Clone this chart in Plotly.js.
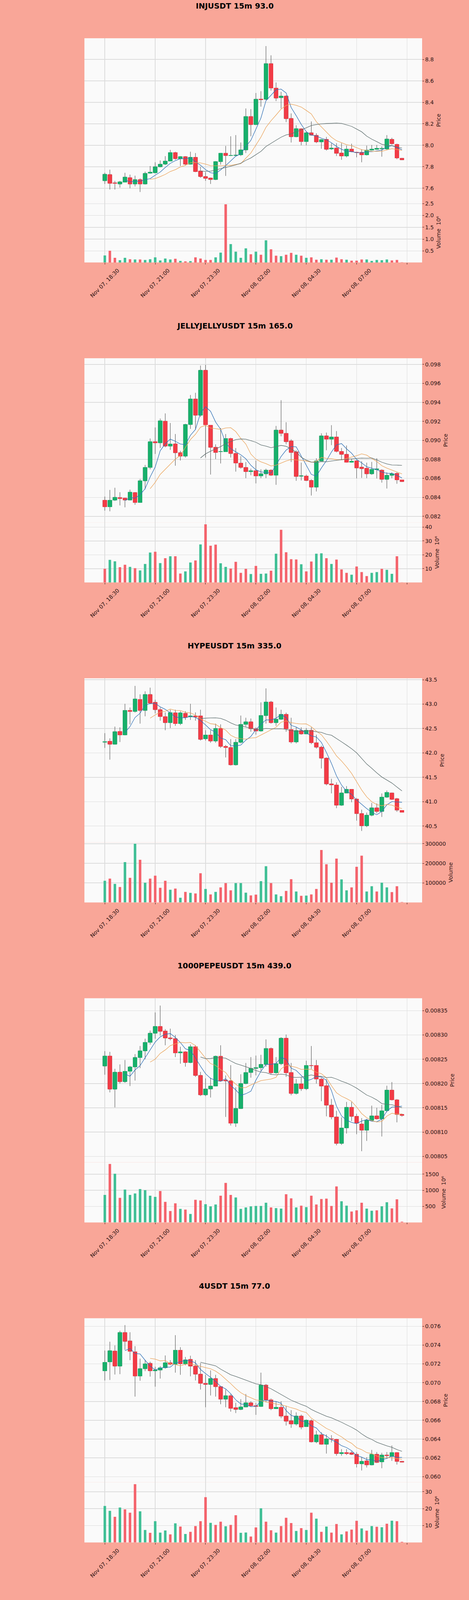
<!DOCTYPE html>
<html><head><meta charset="utf-8">
<script src="https://cdn.plot.ly/plotly-3.0.1.min.js"></script>
<style>html,body{margin:0;padding:0;background:#f9a698;overflow:hidden;} #chart{width:1200px;}</style>
</head><body><div id="chart"></div>
<script>
// ---------- shared x axis ticks ----------
const tickPositions = [0, 10, 20, 30, 40, 50];
const tickLabels = ["Nov 07, 18:30", "Nov 07, 21:00", "Nov 07, 23:30", "Nov 08, 02:00", "Nov 08, 04:30", "Nov 08, 07:00"];
const unlabeledTickPositions = [60];

// ---------- INJUSDT ----------
const injOpen = [7.67,7.727,7.65,7.64,7.657,7.698,7.64,7.68,7.64,7.74,7.744,7.80,7.825,7.853,7.932,7.874,7.894,7.824,7.888,7.761,7.709,7.695,7.681,7.848,7.926,7.905,7.905,7.911,7.957,8.268,8.193,8.43,8.429,8.76,8.533,8.444,8.458,8.25,8.08,8.153,8.035,8.116,8.093,8.032,8.055,7.966,7.974,7.928,7.90,7.965,7.936,7.934,7.911,7.955,7.963,7.968,7.966,8.055,8.009,7.879];
const injHigh = [7.745,7.773,7.669,7.669,7.744,7.727,7.717,7.692,7.755,7.807,7.842,7.859,7.899,7.957,7.94,7.899,7.899,7.94,7.928,7.80,7.75,7.70,7.853,7.928,7.994,8.084,8.095,8.026,8.343,8.337,8.487,8.504,8.924,8.838,8.585,8.498,8.465,8.297,8.187,8.158,8.13,8.222,8.112,8.058,8.078,8.02,8.02,8.02,7.997,8.015,7.94,7.963,7.997,8.003,8.003,7.99,8.095,8.07,8.015,7.881];
const injLow = [7.64,7.588,7.588,7.606,7.655,7.60,7.617,7.565,7.635,7.735,7.738,7.795,7.815,7.85,7.865,7.807,7.815,7.82,7.75,7.698,7.669,7.64,7.676,7.82,7.715,7.90,7.897,7.90,7.928,8.084,8.19,8.36,8.42,8.51,8.412,8.343,8.216,8.026,8.075,8.0,8.0,8.09,8.02,7.968,7.951,7.957,7.90,7.865,7.888,7.935,7.888,7.842,7.905,7.95,7.958,7.894,7.955,8.005,7.87,7.863];
const injClose = [7.73,7.646,7.645,7.66,7.704,7.64,7.68,7.64,7.738,7.75,7.80,7.824,7.853,7.932,7.876,7.894,7.824,7.888,7.755,7.709,7.692,7.681,7.848,7.926,7.905,7.906,7.908,7.957,8.268,8.193,8.429,8.425,8.76,8.533,8.44,8.458,8.248,8.08,8.155,8.035,8.116,8.095,8.032,8.053,7.963,7.974,7.925,7.90,7.965,7.94,7.932,7.911,7.955,7.965,7.972,7.972,8.058,8.015,7.882,7.865];
const injVolumeM = [0.31,0.51,0.21,0.11,0.21,0.15,0.14,0.14,0.12,0.15,0.23,0.10,0.18,0.14,0.17,0.08,0.06,0.07,0.23,0.18,0.12,0.12,0.23,0.43,2.47,0.79,0.47,0.21,0.61,0.36,0.47,0.34,0.95,0.57,0.30,0.28,0.34,0.42,0.34,0.30,0.21,0.23,0.13,0.15,0.13,0.13,0.22,0.15,0.13,0.09,0.09,0.14,0.14,0.08,0.12,0.11,0.14,0.10,0.12,0.02];

// ---------- JELLYJELLYUSDT ----------
const jellyOpen = [0.0837,0.0830,0.0837,0.08397,0.08392,0.08372,0.0845,0.08346,0.08574,0.08715,0.08986,0.08974,0.09202,0.0894,0.08963,0.0887,0.08834,0.09167,0.09436,0.09265,0.09738,0.0916,0.08927,0.0888,0.0888,0.0902,0.08862,0.08761,0.08715,0.08671,0.0868,0.08625,0.08648,0.08687,0.08633,0.09108,0.09074,0.08994,0.0888,0.08623,0.08625,0.08578,0.08508,0.08783,0.09047,0.09012,0.09036,0.08884,0.08853,0.08769,0.08784,0.08718,0.08707,0.08648,0.08692,0.08687,0.0859,0.08632,0.08652,0.08584];
const jellyHigh = [0.08408,0.08478,0.08501,0.08454,0.08395,0.08481,0.08455,0.08594,0.08741,0.0902,0.09136,0.0923,0.09284,0.09183,0.09067,0.0889,0.09175,0.09478,0.09501,0.09788,0.09795,0.0916,0.08958,0.09129,0.09067,0.09028,0.08919,0.08834,0.08772,0.08702,0.08788,0.08695,0.08702,0.08695,0.09152,0.09423,0.09191,0.09012,0.08896,0.08766,0.0864,0.0859,0.08811,0.09074,0.09082,0.0916,0.09098,0.0892,0.08946,0.08806,0.08794,0.0878,0.08765,0.08773,0.08812,0.08695,0.08663,0.08663,0.08663,0.08586];
const jellyLow = [0.0826,0.08253,0.08361,0.08315,0.08295,0.08368,0.08322,0.08342,0.08485,0.08695,0.08857,0.0892,0.08927,0.0890,0.08733,0.08788,0.08819,0.09121,0.09113,0.09247,0.08819,0.0864,0.08803,0.08757,0.08878,0.08819,0.08671,0.08702,0.08602,0.08633,0.08547,0.08602,0.08602,0.08625,0.08532,0.09043,0.08958,0.08772,0.08574,0.08578,0.08571,0.08419,0.08462,0.08783,0.08896,0.0895,0.08873,0.08795,0.08765,0.08765,0.086,0.08605,0.08602,0.08637,0.08598,0.08555,0.08493,0.08602,0.08543,0.08564];
const jellyClose = [0.0830,0.0837,0.0840,0.08388,0.08372,0.08454,0.08346,0.08574,0.08715,0.08986,0.08974,0.09206,0.0894,0.08961,0.0887,0.08834,0.09167,0.09436,0.09265,0.09738,0.09164,0.08927,0.08873,0.08882,0.0902,0.08862,0.08761,0.08715,0.08671,0.0868,0.08625,0.08648,0.08687,0.08633,0.09108,0.09074,0.08986,0.08873,0.0862,0.08627,0.08578,0.08508,0.08783,0.09047,0.09012,0.09036,0.08884,0.08853,0.08769,0.08781,0.0871,0.08702,0.08648,0.08695,0.087,0.0859,0.08632,0.08648,0.08584,0.08566];
const jellyVolumeM = [10.0,16.4,15.3,11.1,12.9,11.3,10.4,8.8,13.4,21.7,22.2,14.1,17.6,19.0,19.0,6.5,8.1,14.5,16.0,27.5,42.0,26.6,27.4,13.9,11.3,10.1,15.0,7.0,9.9,6.2,12.0,6.3,6.5,8.6,20.8,38.1,21.9,16.9,16.7,13.2,8.1,15.2,20.8,21.1,17.6,13.4,16.6,9.5,7.0,5.7,11.6,7.6,4.7,7.0,7.6,9.9,9.2,6.3,19.0,0.2];

// ---------- HYPEUSDT ----------
const hypeOpen = [42.22,42.238,42.178,42.44,42.367,42.87,42.85,43.096,42.87,43.196,43.036,42.886,42.744,42.62,42.82,42.6,42.81,42.741,42.759,42.759,42.289,42.367,42.244,42.5,42.133,42.11,41.756,42.217,42.584,42.636,42.494,42.449,42.765,43.042,42.62,42.69,42.789,42.479,42.223,42.458,42.389,42.464,42.208,42.117,41.892,41.364,41.343,40.928,41.178,41.253,41.054,40.756,40.506,40.723,40.873,40.801,41.093,41.178,41.06,40.822];
const hypeHigh = [42.404,42.298,42.539,42.524,43.006,42.93,43.373,43.2,43.262,43.337,43.09,42.93,42.83,42.885,42.885,42.855,42.855,43.006,42.83,42.885,42.464,42.464,42.6,42.585,42.163,42.283,42.283,42.765,42.72,42.705,42.524,43.036,43.322,43.066,42.93,42.885,42.825,42.72,42.524,42.524,42.509,42.524,42.373,42.148,41.907,41.47,41.395,41.304,41.319,41.259,41.078,40.837,40.777,40.974,40.964,41.169,41.229,41.184,41.078,40.822];
const hypeLow = [42.102,41.861,42.17,42.223,42.36,42.584,42.825,42.6,42.75,43.01,42.81,42.66,42.464,42.509,42.554,42.57,42.675,42.675,42.66,42.253,42.253,42.208,42.208,42.102,41.907,41.741,41.741,42.193,42.539,42.434,42.373,42.434,42.6,42.6,42.554,42.675,42.434,42.193,42.193,42.373,42.389,42.178,42.088,41.68,41.334,41.17,40.867,40.913,41.17,40.988,40.611,40.4,40.479,40.7,40.762,40.687,41.078,41.033,40.792,40.78];
const hypeClose = [42.23,42.178,42.434,42.367,42.87,42.85,43.105,42.87,43.196,43.02,42.886,42.744,42.62,42.825,42.6,42.82,42.729,42.759,42.735,42.277,42.367,42.244,42.5,42.133,42.11,41.756,42.217,42.584,42.636,42.494,42.449,42.765,43.042,42.62,42.69,42.789,42.494,42.223,42.458,42.389,42.464,42.208,42.117,41.892,41.364,41.343,40.928,41.178,41.253,41.054,40.756,40.506,40.723,40.873,40.801,41.093,41.19,41.048,40.828,40.783];
const hypeVolume = [111000,122000,95000,79000,206000,126000,300000,218000,101000,122000,137000,75000,111000,65000,71000,24000,54000,49000,46000,149000,69000,41000,54000,77000,99000,62000,99000,99000,50000,36000,40000,109000,185000,99000,41000,32000,59000,119000,56000,34000,35000,41000,69000,268000,195000,101000,224000,118000,62000,77000,182000,239000,56000,83000,56000,101000,77000,53000,83000,2000];

// ---------- 1000PEPEUSDT ----------
const pepeOpen = [0.0082361,0.0082567,0.0081885,0.0082233,0.0082039,0.0082252,0.0082342,0.0082536,0.0082673,0.0082848,0.0083036,0.0083176,0.0083082,0.0082939,0.0082924,0.008263,0.0082652,0.0082433,0.0082758,0.0082167,0.0081767,0.0081888,0.0081948,0.0082561,0.008207,0.0082055,0.0081182,0.0081485,0.0082,0.0082227,0.0082312,0.0082327,0.0082394,0.0082721,0.0082221,0.0082409,0.0082933,0.0082227,0.0081797,0.0081994,0.0081894,0.0082373,0.0082373,0.0082091,0.0081955,0.0081555,0.0081312,0.0080767,0.0081085,0.0081509,0.0081324,0.0081167,0.0081039,0.0081242,0.0081333,0.0081273,0.0081439,0.0081864,0.0081664,0.0081364];
const pepeHigh = [0.0082667,0.0082652,0.0082303,0.0082394,0.0082485,0.0082364,0.0082606,0.0082773,0.0082924,0.0083091,0.0083464,0.0083606,0.0083121,0.008313,0.0083,0.0082758,0.0082667,0.0082803,0.008279,0.008224,0.0082106,0.0082121,0.0082576,0.0082788,0.0082167,0.0082379,0.0081924,0.0082191,0.0082424,0.0082545,0.0082576,0.0082591,0.0082909,0.0082742,0.0082545,0.0082955,0.0083009,0.0082424,0.0082091,0.0082136,0.008247,0.0082773,0.0082485,0.0082121,0.0082091,0.0081682,0.0081439,0.0081303,0.0081621,0.0081621,0.0081379,0.0081288,0.0081273,0.0081545,0.00815,0.0081561,0.0081955,0.008203,0.0081682,0.0081379];
const pepeLow = [0.0082182,0.0081818,0.0081509,0.0082,0.0082015,0.0081948,0.0082061,0.0082318,0.00825,0.0082803,0.0082924,0.0082985,0.0082788,0.008289,0.0082545,0.0082409,0.0082348,0.008242,0.0082136,0.0081742,0.008174,0.0081712,0.008194,0.0082045,0.0081312,0.0081136,0.0081106,0.008148,0.0081985,0.0082121,0.0082167,0.0082258,0.0082348,0.0082182,0.0082197,0.0082379,0.0082136,0.0081758,0.0081773,0.0081848,0.0081864,0.0082303,0.0082,0.0081636,0.0081324,0.0081264,0.0080727,0.0080736,0.008097,0.0081227,0.0080955,0.0080606,0.0080818,0.0081227,0.0081258,0.0080909,0.0081409,0.0081652,0.00812,0.0081318];
const pepeClose = [0.0082567,0.0081885,0.0082233,0.0082039,0.0082252,0.0082342,0.0082536,0.0082673,0.0082848,0.0083036,0.0083176,0.0083076,0.0082939,0.0082924,0.008263,0.0082652,0.0082433,0.0082758,0.0082167,0.0081767,0.0081888,0.0081948,0.0082561,0.0082055,0.0082055,0.0081182,0.0081485,0.0082,0.0082227,0.0082312,0.0082327,0.0082394,0.0082721,0.0082221,0.0082409,0.0082933,0.0082221,0.0081797,0.0081994,0.0081894,0.0082373,0.008237,0.0082091,0.0081948,0.0081555,0.0081312,0.0080767,0.0081085,0.0081509,0.0081324,0.0081182,0.0081039,0.0081242,0.0081333,0.0081273,0.0081439,0.0081864,0.0081664,0.0081364,0.0081342];
const pepeVolumeM = [855,1818,1514,764,1023,855,900,1036,1005,832,795,977,641,355,595,423,400,264,705,682,568,500,559,832,1227,855,777,423,468,500,514,514,614,468,445,432,877,750,468,523,477,832,559,727,741,514,1118,659,523,341,377,614,432,364,377,505,627,436,718,23];

// ---------- 4USDT ----------
const fourOpen = [0.07126,0.07221,0.07337,0.07177,0.07534,0.07444,0.07329,0.07071,0.07149,0.07206,0.07127,0.07135,0.07159,0.07212,0.07196,0.07346,0.07201,0.07248,0.07177,0.07091,0.06993,0.06982,0.07044,0.06958,0.06825,0.06861,0.06735,0.06716,0.06742,0.06786,0.06755,0.06747,0.06974,0.06818,0.06724,0.06739,0.06645,0.06595,0.0656,0.06645,0.06533,0.06595,0.06371,0.06445,0.06345,0.06403,0.06398,0.06246,0.06257,0.06254,0.06238,0.06137,0.06168,0.06126,0.06238,0.06157,0.0623,0.06215,0.06257,0.06163];
const fourHigh = [0.07342,0.07436,0.07397,0.07553,0.07613,0.07537,0.07389,0.07256,0.07243,0.07224,0.0717,0.07177,0.0729,0.0724,0.07506,0.07378,0.07274,0.07287,0.0724,0.07209,0.07084,0.07131,0.07084,0.06966,0.06927,0.0688,0.06786,0.06825,0.0688,0.06802,0.06786,0.07107,0.06987,0.06833,0.06799,0.06802,0.06752,0.06708,0.06685,0.06661,0.06609,0.06609,0.06489,0.06474,0.0645,0.06442,0.06403,0.06293,0.06293,0.0627,0.06262,0.06207,0.06207,0.06285,0.06262,0.06254,0.06262,0.06332,0.06262,0.06165];
const fourLow = [0.07024,0.07029,0.07087,0.07091,0.0735,0.0724,0.06852,0.07021,0.07123,0.07065,0.06958,0.07044,0.07149,0.07185,0.07107,0.07084,0.07185,0.07068,0.07024,0.06927,0.06739,0.06864,0.06852,0.06771,0.06739,0.06692,0.06677,0.06708,0.06739,0.06747,0.06658,0.06742,0.06794,0.06708,0.06723,0.06622,0.06544,0.0652,0.06544,0.06505,0.06532,0.06364,0.06356,0.0634,0.06246,0.06364,0.06223,0.06223,0.06231,0.06231,0.06098,0.06066,0.06098,0.0612,0.06145,0.0609,0.06192,0.06168,0.06129,0.06152];
const fourClose = [0.07217,0.0734,0.07177,0.07534,0.0744,0.07334,0.07071,0.07149,0.07201,0.07127,0.07135,0.07159,0.07212,0.07196,0.07346,0.07201,0.07243,0.07177,0.07091,0.06993,0.06982,0.07044,0.06958,0.06825,0.06861,0.06727,0.06716,0.06742,0.06786,0.06755,0.06747,0.06974,0.06818,0.06724,0.06739,0.06645,0.06591,0.0656,0.06645,0.06528,0.06602,0.06371,0.06445,0.06345,0.06403,0.06398,0.06246,0.06257,0.06246,0.06238,0.06137,0.06163,0.06126,0.06238,0.06152,0.0623,0.06223,0.06257,0.06163,0.06155];
const fourVolumeM = [21.6,18.7,15.2,20.7,19.6,17.6,34.5,18.4,7.4,5.7,12.6,5.8,7.1,4.8,11.3,9.4,5.0,6.3,9.7,12.6,26.8,11.6,10.4,12.3,9.6,10.4,16.1,5.7,5.9,3.5,8.9,20.2,12.3,7.2,5.8,9.7,14.6,11.5,6.8,8.5,7.4,17.6,14.1,6.3,9.4,5.8,10.9,4.8,6.5,7.6,12.8,8.3,7.0,9.7,9.3,9.0,11.1,12.9,12.6,0.4];

// ---------- axis tick values ----------
const injPriceTicks = [7.6,7.8,8.0,8.2,8.4,8.6,8.8];
const injVolTicks = [0.5,1.0,1.5,2.0,2.5];
const jellyPriceTicks = [0.082,0.084,0.086,0.088,0.090,0.092,0.094,0.096,0.098];
const jellyVolTicks = [10,20,30,40];
const hypePriceTicks = [40.5,41.0,41.5,42.0,42.5,43.0,43.5];
const hypeVolTicks = [100000,200000,300000];
const pepePriceTicks = [0.00805,0.0081,0.00815,0.0082,0.00825,0.0083,0.00835];
const pepeVolTicks = [500,1000,1500];
const fourPriceTicks = [0.060,0.062,0.064,0.066,0.068,0.070,0.072,0.074,0.076];
const fourVolTicks = [10,20,30];

// moving-average windows used by the chart (mav = 5, 10, 20)
const maWindows = [5, 10, 20];

// ---------- style ----------
const GREEN = '#17b06b', RED = '#f23b46';
const VGREEN = '#3fbf95', VRED = '#f4636c';
const MA_COLORS = ['#2f70b5', '#eba35a', '#607070'];
const WICK = '#3c3c3c', TXT = '#2e1212', GRID = '#dcdcdc';
const FONT = 'DejaVu Sans';
const W = 1200;
const REF_H = 4310;                                   // design height of the figure
const H = Math.min(REF_H, window.innerHeight || REF_H); // fit the visible window
const PH = 862;                                       // design height of one panel
const py = px => 1 - px / REF_H;                      // design px -> paper fraction
const VOL_E6 = 'Volume  10\u2076';

function sma(arr, n) {
  return arr.map((v, i) => {
    if (i < n - 1) return null;
    let s = 0;
    for (let j = i - n + 1; j <= i; j++) s += arr[j];
    return s / n;
  });
}

const panels = [
  {title: 'INJUSDT 15m 93.0', o: injOpen, h: injHigh, l: injLow, c: injClose, v: injVolumeM,
   pRange: [7.469, 8.997], pTicks: injPriceTicks, pFmt: '.1f',
   vRange: [0.014, 2.555], vTicks: injVolTicks, vFmt: '.1f', vTitle: VOL_E6},
  {title: 'JELLYJELLYUSDT 15m 165.0', o: jellyOpen, h: jellyHigh, l: jellyLow, c: jellyClose, v: jellyVolumeM,
   pRange: [0.08137, 0.09865], pTicks: jellyPriceTicks, pFmt: '.3f',
   vRange: [0.1, 43.45], vTicks: jellyVolTicks, vFmt: 'd', vTitle: VOL_E6},
  {title: 'HYPEUSDT 15m 335.0', o: hypeOpen, h: hypeHigh, l: hypeLow, c: hypeClose, v: hypeVolume,
   pRange: [40.167, 43.53], pTicks: hypePriceTicks, pFmt: '.1f',
   vRange: [0, 307200], vTicks: hypeVolTicks, vFmt: 'd', vTitle: 'Volume'},
  {title: '1000PEPEUSDT 15m 439.0', o: pepeOpen, h: pepeHigh, l: pepeLow, c: pepeClose, v: pepeVolumeM,
   pRange: [0.0080377, 0.0083757], pTicks: pepePriceTicks, pFmt: '.5f',
   vRange: [0, 1868], vTicks: pepeVolTicks, vFmt: 'd', vTitle: VOL_E6},
  {title: '4USDT 15m 77.0', o: fourOpen, h: fourHigh, l: fourLow, c: fourClose, v: fourVolumeM,
   pRange: [0.0594, 0.07686], pTicks: fourPriceTicks, pFmt: '.3f',
   vRange: [0, 35.6], vTicks: fourVolTicks, vFmt: 'd', vTitle: VOL_E6}
];

const traces = [];
const layout = {
  width: W, height: H, autosize: false,
  margin: {l: 0, r: 0, t: 0, b: 0},
  paper_bgcolor: '#f9a698', plot_bgcolor: '#fafafa',
  showlegend: false, boxmode: 'overlay', boxgap: 0.22, boxgroupgap: 0,
  font: {family: FONT, color: TXT, size: 13.9},
  annotations: []
};

panels.forEach((p, k) => {
  const n = k + 1;
  const xa = n === 1 ? 'x' : 'x' + n;
  const ypN = 2 * k + 1, yvN = 2 * k + 2;
  const yp = ypN === 1 ? 'y' : 'y' + ypN;
  const yv = 'y' + yvN;
  const T = k * PH;
  const idx = p.o.map((_, i) => i);

  // full candles: dark wicks
  traces.push({type: 'candlestick', x: idx, open: p.o, high: p.h, low: p.l, close: p.c,
    xaxis: xa, yaxis: yp, whiskerwidth: 0, hoverinfo: 'skip',
    increasing: {line: {color: WICK, width: 1}, fillcolor: GREEN},
    decreasing: {line: {color: WICK, width: 1}, fillcolor: RED}});
  // bodies redrawn with coloured edges
  const bHi = p.o.map((o, i) => Math.max(o, p.c[i]));
  const bLo = p.o.map((o, i) => Math.min(o, p.c[i]));
  traces.push({type: 'candlestick', x: idx, open: p.o, high: bHi, low: bLo, close: p.c,
    xaxis: xa, yaxis: yp, whiskerwidth: 0, hoverinfo: 'skip',
    increasing: {line: {color: GREEN, width: 1}, fillcolor: GREEN},
    decreasing: {line: {color: RED, width: 1}, fillcolor: RED}});
  // moving averages of the closes
  maWindows.forEach((w, j) => {
    traces.push({type: 'scatter', mode: 'lines', x: idx, y: sma(p.c, w), xaxis: xa, yaxis: yp,
      line: {color: MA_COLORS[j], width: 1.3}, hoverinfo: 'skip', connectgaps: false});
  });
  // volume
  traces.push({type: 'bar', x: idx, y: p.v, xaxis: xa, yaxis: yv, width: 0.5, hoverinfo: 'skip',
    marker: {color: p.o.map((o, i) => p.c[i] >= o ? VGREEN : VRED), line: {width: 0}}});

  const xKey = n === 1 ? 'xaxis' : 'xaxis' + n;
  const ypKey = ypN === 1 ? 'yaxis' : 'yaxis' + ypN;
  const yvKey = 'yaxis' + yvN;
  layout[xKey] = {domain: [0.18, 0.9], anchor: yv, range: [-4.05, 63.0],
    tickmode: 'array', tickvals: tickPositions, ticktext: tickLabels,
    tickangle: -45, ticklabelshift: 33, ticklabelstandoff: 2,
    tickfont: {family: FONT, size: 13.9, color: TXT},
    ticks: 'outside', ticklen: 4, tickwidth: 1, tickcolor: TXT,
    minor: {tickmode: 'array', tickvals: unlabeledTickPositions, ticks: 'outside', ticklen: 4,
            tickcolor: TXT, tickwidth: 1, showgrid: true, gridcolor: GRID, gridwidth: 1.4},
    showgrid: true, gridcolor: GRID, gridwidth: 1.4, zeroline: false, showline: false,
    rangeslider: {visible: false}, fixedrange: true};
  const yCommon = {anchor: xa, side: 'right', tickmode: 'array', ticks: 'outside', ticklen: 4,
    tickwidth: 1, tickcolor: TXT, tickfont: {family: FONT, size: 13.9, color: TXT},
    showgrid: true, gridcolor: GRID, gridwidth: 1.4, zeroline: false, showline: false, fixedrange: true};
  layout[ypKey] = Object.assign({}, yCommon, {domain: [py(T + 545), py(T + 103)], range: p.pRange,
    tickvals: p.pTicks, tickformat: p.pFmt,
    title: {text: 'Price', font: {family: FONT, size: 13.9, color: TXT}, standoff: 8}});
  layout[yvKey] = Object.assign({}, yCommon, {domain: [py(T + 707), py(T + 545)], range: p.vRange,
    tickvals: p.vTicks, tickformat: p.vFmt,
    title: {text: p.vTitle, font: {family: FONT, size: 13.9, color: TXT}, standoff: 8}});

  layout.annotations.push({xref: 'paper', yref: 'paper', x: 0.5, y: py(T + 16),
    text: '<b>' + p.title + '</b>', showarrow: false, xanchor: 'center', yanchor: 'middle',
    font: {family: FONT, size: 19.5, color: '#000000'}});
});

document.getElementById('chart').style.height = H + 'px';
Plotly.newPlot('chart', traces, layout, {staticPlot: true, displayModeBar: false});
</script>
</body></html>
